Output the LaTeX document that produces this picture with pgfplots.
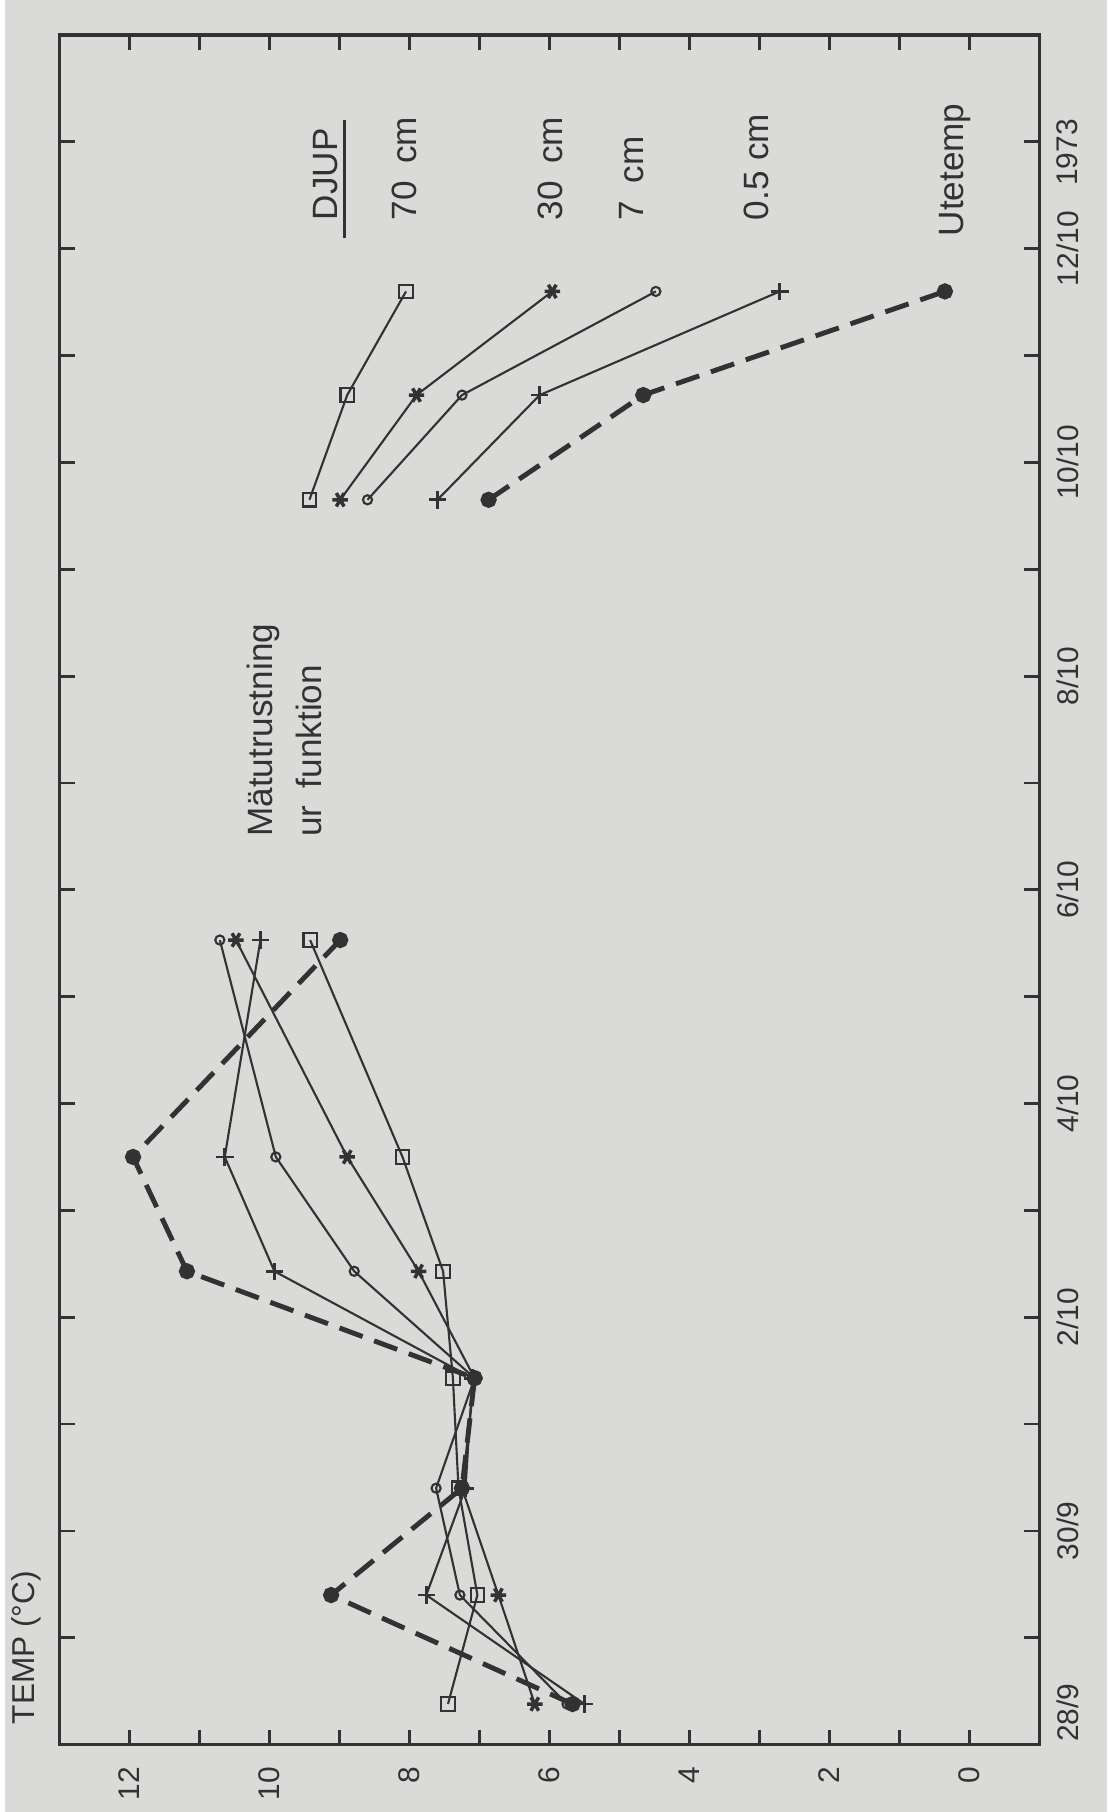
\documentclass[border=0pt]{standalone}
\usepackage{graphicx}
\usepackage{fontspec}
\setmainfont{Liberation Sans}
\usepackage{pgfplots}
\pgfplotsset{compat=1.18}
\definecolor{ink}{RGB}{50,50,50}
\definecolor{paper}{RGB}{218,218,216}
\begin{document}
\rotatebox{90}{%
\begin{tikzpicture}
\fill[paper] (-0.67,-0.68) rectangle (17.45,10.35);
\begin{axis}[
  at={(0,0)}, anchor=south west,
  scale only axis, width=17.1cm, height=9.8cm,
  xmin=0, xmax=16, ymin=-1, ymax=13,
  axis line style={ink, line width=1pt},
  xtick={2,4,...,14},
  xticklabels={30/9,2/10,4/10,6/10,8/10,10/10,12/10},
  minor xtick={1,3,...,15},
  ytick={0,2,...,12}, minor ytick={1,3,...,11},
  major tick length=0.15cm, minor tick length=0.15cm,
  tick style={ink, line width=0.8pt},
  tick label style={font=\fontsize{8.5}{10}\selectfont, text=ink},
  /pgf/number format/assume math mode=true,
  xticklabel style={yshift=-0.05cm},
  yticklabel style={xshift=-0.1cm},
  unbounded coords=jump,
  clip=false,
]
% 70 cm
\addplot[ink, line width=0.6pt, mark=square, mark size=1.9pt, mark options={fill=paper, solid}]
 coordinates {(0.38,7.45)(1.4,7.03)(2.4,7.3)(3.43,7.38)(4.43,7.52)(5.5,8.10)(7.53,9.42)(9,nan)(11.65,9.43)(12.63,8.89)(13.6,8.05)};
% 30 cm
\addplot[ink, line width=0.6pt, mark=asterisk, mark size=2.2pt, mark options={line width=1pt, solid}]
 coordinates {(0.38,6.21)(1.4,6.73)(2.4,7.25)(3.43,7.07)(4.43,7.87)(5.5,8.89)(7.53,10.48)(9,nan)(11.65,8.99)(12.63,7.90)(13.6,5.96)};
% 7 cm
\addplot[ink, line width=0.6pt, mark=o, mark size=1.3pt, mark options={fill=paper, solid}]
 coordinates {(0.38,5.75)(1.4,7.28)(2.4,7.62)(3.43,7.07)(4.43,8.79)(5.5,9.91)(7.53,10.71)(9,nan)(11.65,8.60)(12.63,7.25)(13.6,4.48)};
% 0.5 cm
\addplot[ink, line width=0.6pt, mark=+, mark size=2.5pt, mark options={line width=0.8pt, solid}]
 coordinates {(0.38,5.5)(1.4,7.76)(2.4,7.2)(3.43,7.1)(4.43,9.93)(5.5,10.64)(7.53,10.13)(9,nan)(11.65,7.60)(12.63,6.14)(13.6,2.71)};
% Utetemp
\addplot[ink, line width=1.4pt, dash pattern=on 7pt off 3.5pt, mark=*, mark size=1.6pt, mark options={solid, fill=ink}]
 coordinates {(0.38,5.67)(1.4,9.12)(2.4,7.25)(3.43,7.07)(4.43,11.18)(5.5,11.95)(7.53,8.99)(9,nan)(11.65,6.87)(12.63,4.66)(13.6,0.35)};

% legend texts
\node[anchor=west, font=\fontsize{10}{12}\selectfont, text=ink] at (axis cs:14.15,9.2) {DJUP};
\draw[ink, line width=0.8pt] (axis cs:14.1,8.93) -- (axis cs:15.2,8.93);
\node[anchor=west, font=\fontsize{10}{12}\selectfont, text=ink] at (axis cs:14.15,8.07) {70\hspace{0.5em}cm};
\node[anchor=west, font=\fontsize{10}{12}\selectfont, text=ink] at (axis cs:14.15,5.98) {30\hspace{0.5em}cm};
\node[anchor=west, font=\fontsize{10}{12}\selectfont, text=ink] at (axis cs:14.15,4.83) {7\hspace{0.5em}cm};
\node[anchor=west, font=\fontsize{10}{12}\selectfont, text=ink] at (axis cs:14.15,3.04) {0.5\hspace{0.3em}cm};
\node[anchor=west, font=\fontsize{10}{12}\selectfont, text=ink] at (axis cs:14.0,0.2) {Utetemp};

% annotation
\node[anchor=west, font=\fontsize{10}{12}\selectfont, text=ink] at (axis cs:8.38,10.09) {Mätutrustning};
\node[anchor=west, font=\fontsize{10}{12}\selectfont, text=ink] at (axis cs:8.38,9.43) {ur\hspace{0.5em}funktion};

% extra date labels
\node[anchor=north, yshift=-0.05cm, font=\fontsize{8.5}{10}\selectfont, text=ink] at (axis cs:0.3,-1) {28/9};
\node[anchor=north, yshift=-0.05cm, font=\fontsize{8.5}{10}\selectfont, text=ink] at (axis cs:14.9,-1) {1973};

% axis title
\node[anchor=south west, xshift=0.08cm, yshift=0.06cm, font=\fontsize{9}{11}\selectfont, text=ink] at (rel axis cs:0,1) {TEMP (°C)};
\end{axis}
\end{tikzpicture}}
\end{document}
